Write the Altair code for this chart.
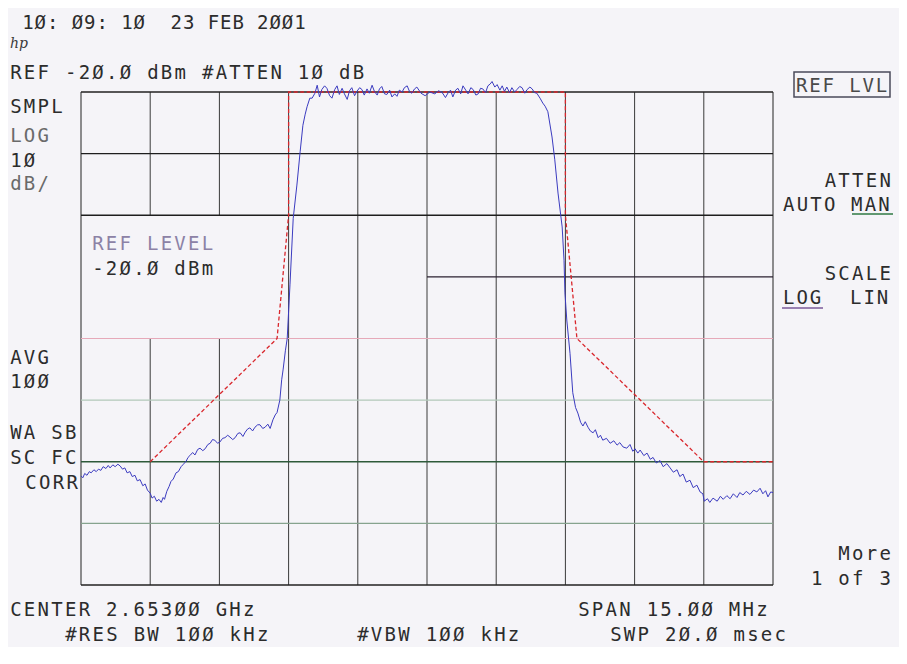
import altair as alt
import pandas as pd

# ---------------- data (MHz, dBm) ----------------
trace_freq = [
    2645.50, 2645.54, 2645.58, 2645.63, 2645.68, 2645.72, 2645.78, 2645.83, 2645.88, 2645.93,
    2645.98, 2646.04, 2646.09, 2646.13, 2646.19, 2646.24, 2646.30, 2646.35, 2646.40, 2646.45,
    2646.50, 2646.56, 2646.61, 2646.67, 2646.72, 2646.78, 2646.84, 2646.89, 2646.94, 2647.00,
    2647.04, 2647.09, 2647.14, 2647.19, 2647.24, 2647.28, 2647.31, 2647.36, 2647.41, 2647.45,
    2647.50, 2647.56, 2647.61, 2647.67, 2647.72, 2647.78, 2647.82, 2647.86, 2647.92, 2647.97,
    2648.03, 2648.08, 2648.14, 2648.19, 2648.25, 2648.30, 2648.35, 2648.40, 2648.46, 2648.51,
    2648.57, 2648.62, 2648.68, 2648.73, 2648.79, 2648.84, 2648.90, 2648.95, 2649.01, 2649.06,
    2649.11, 2649.16, 2649.22, 2649.27, 2649.33, 2649.38, 2649.44, 2649.49, 2649.55, 2649.60,
    2649.66, 2649.71, 2649.75, 2649.81, 2649.85, 2649.88, 2649.93, 2649.97, 2650.03, 2650.10,
    2650.18, 2650.25, 2650.31, 2650.36, 2650.40, 2650.46, 2650.51, 2650.57, 2650.62, 2650.67,
    2650.72, 2650.78, 2650.83, 2650.89, 2650.94, 2651.00, 2651.05, 2651.10, 2651.16, 2651.21,
    2651.27, 2651.32, 2651.37, 2651.43, 2651.48, 2651.54, 2651.59, 2651.64, 2651.70, 2651.75,
    2651.81, 2651.86, 2651.92, 2651.97, 2652.02, 2652.08, 2652.13, 2652.19, 2652.24, 2652.30,
    2652.35, 2652.40, 2652.46, 2652.51, 2652.57, 2652.62, 2652.67, 2652.73, 2652.78, 2652.87,
    2652.96, 2653.06, 2653.17, 2653.25, 2653.33, 2653.40, 2653.46, 2653.51, 2653.56, 2653.62,
    2653.67, 2653.73, 2653.78, 2653.84, 2653.89, 2653.95, 2654.00, 2654.06, 2654.11, 2654.16,
    2654.21, 2654.27, 2654.32, 2654.37, 2654.41, 2654.47, 2654.52, 2654.58, 2654.63, 2654.68,
    2654.73, 2654.79, 2654.84, 2654.90, 2654.95, 2655.01, 2655.06, 2655.12, 2655.17, 2655.23,
    2655.28, 2655.33, 2655.38, 2655.45, 2655.51, 2655.56, 2655.62, 2655.71, 2655.77, 2655.84,
    2655.93, 2655.97, 2655.99, 2656.03, 2656.10, 2656.16, 2656.22, 2656.27, 2656.33, 2656.38,
    2656.43, 2656.49, 2656.54, 2656.60, 2656.65, 2656.71, 2656.76, 2656.81, 2656.89, 2656.97,
    2657.05, 2657.12, 2657.18, 2657.25, 2657.33, 2657.40, 2657.46, 2657.51, 2657.57, 2657.62,
    2657.70, 2657.77, 2657.84, 2657.90, 2657.97, 2658.05, 2658.12, 2658.20, 2658.27, 2658.34,
    2658.42, 2658.48, 2658.55, 2658.62, 2658.70, 2658.77, 2658.85, 2658.92, 2658.98, 2659.01,
    2659.08, 2659.13, 2659.20, 2659.29, 2659.36, 2659.42, 2659.50, 2659.57, 2659.64, 2659.72,
    2659.78, 2659.85, 2659.92, 2660.00, 2660.08, 2660.15, 2660.22, 2660.28, 2660.34, 2660.39,
    2660.45, 2660.50,
]
trace_level = [
    -82.3, -82.6, -81.9, -82.2, -81.6, -81.8, -81.3, -81.6, -81.2, -81.4,
    -80.8, -81.1, -80.6, -81.0, -80.5, -80.8, -80.4, -80.7, -81.2, -81.0,
    -81.8, -81.6, -82.4, -82.2, -83.1, -82.9, -83.9, -83.6, -84.6, -85.1,
    -85.9, -85.6, -86.4, -86.1, -86.6, -85.8, -86.1, -84.8, -84.0, -83.2,
    -82.8, -81.8, -81.6, -80.8, -80.4, -79.9, -79.3, -79.0, -78.5, -78.9,
    -78.0, -77.8, -78.2, -77.9, -77.2, -77.0, -76.4, -76.5, -77.0, -76.8,
    -76.2, -76.1, -75.7, -76.0, -76.4, -76.1, -75.4, -75.3, -75.9, -75.2,
    -74.7, -74.5, -75.0, -74.4, -74.0, -74.0, -74.6, -74.4, -73.9, -74.6,
    -73.2, -72.4, -72.0, -70.0, -66.7, -65.1, -62.0, -60.0, -51.3, -40.5,
    -35.1, -29.7, -25.4, -23.6, -22.4, -21.0, -21.0, -20.2, -18.9, -20.8,
    -19.6, -19.0, -19.4, -20.6, -21.0, -19.6, -19.0, -20.4, -19.4, -20.3,
    -21.2, -19.8, -19.3, -20.6, -19.9, -19.3, -19.6, -20.5, -19.5, -20.2,
    -18.9, -19.9, -20.5, -19.5, -19.1, -20.3, -20.4, -19.7, -20.8, -20.3,
    -20.7, -19.7, -20.0, -19.3, -19.0, -19.9, -20.2, -19.5, -19.2, -20.2,
    -20.6, -20.0, -20.3, -19.8, -20.1, -20.9, -20.1, -19.7, -20.8, -19.7,
    -19.4, -20.3, -19.0, -19.7, -20.3, -19.3, -19.6, -20.5, -20.3, -19.4,
    -19.5, -20.1, -19.0, -18.7, -18.3, -19.2, -18.8, -19.7, -19.0, -19.9,
    -19.2, -20.1, -19.3, -20.0, -19.6, -19.1, -19.3, -20.2, -19.6, -19.2,
    -19.5, -20.1, -20.2, -21.0, -21.8, -22.3, -23.2, -27.3, -31.0, -36.4,
    -41.9, -47.3, -52.6, -57.0, -62.4, -68.8, -71.2, -72.1, -73.6, -74.2,
    -73.5, -74.4, -75.0, -75.3, -74.8, -76.1, -75.7, -76.5, -76.2, -77.0,
    -76.6, -77.3, -76.9, -77.6, -77.8, -77.2, -78.3, -77.9, -78.6, -78.1,
    -79.0, -78.6, -79.6, -79.3, -80.2, -79.8, -80.8, -80.3, -81.0, -81.7,
    -81.3, -82.4, -82.0, -83.3, -83.0, -84.2, -83.8, -84.9, -85.2, -86.4,
    -86.0, -86.6, -85.9, -86.4, -85.6, -86.1, -85.5, -86.0, -85.2, -85.8,
    -85.0, -85.4, -84.8, -85.3, -84.6, -84.9, -84.3, -85.2, -84.7, -85.7,
    -84.9, -85.0,
]
assert len(trace_freq) == len(trace_level)

mask_freq = [2647.0, 2649.75, 2650.0, 2650.0, 2656.0, 2656.0, 2656.25, 2659.0, 2660.5]
mask_level = [-80, -60, -40, -20, -20, -40, -60, -80, -80]

freq_ticks = [2645.5, 2647.0, 2648.5, 2650.0, 2651.5, 2653.0, 2654.5, 2656.0, 2657.5, 2659.0, 2660.5]
level_ticks = [-20, -30, -40, -50, -60, -70, -80, -90, -100]

# ---------------- layout ----------------
PLOT_W, PLOT_H = 692, 493
OX, OY = 81, 92          # page position of the plot area
PAD = {"left": OX - 8, "top": OY - 8, "right": 907 - 16 - (OX - 8) - PLOT_W, "bottom": 62}

XS = alt.Scale(domain=[freq_ticks[0], freq_ticks[-1]], nice=False, zero=False)
YS = alt.Scale(domain=[level_ticks[-1], level_ticks[0]], nice=False, zero=False)

# ---------------- graticule ----------------
rows = []
lo, hi = level_ticks[-1], level_ticks[0]
for k, f in enumerate(freq_ticks):
    col = "#222222" if k in (0, len(freq_ticks) - 1) else "#3a3a3a"
    if k in (1, 2):
        rows.append(dict(f1=f, f2=f, d1=lo, d2=-60, col=col, w=1.0))
        rows.append(dict(f1=f, f2=f, d1=-40, d2=hi, col=col, w=1.0))
    else:
        rows.append(dict(f1=f, f2=f, d1=lo, d2=hi, col=col, w=1.0))
hstyle = {
    -20: ("#222222", 1.3), -30: ("#1e1e1e", 1.4), -40: ("#1e1e1e", 1.4), -50: ("#2a2030", 1.3),
    -60: ("#e6a9b9", 1.2), -70: ("#b2c9ba", 1.2), -80: ("#2e5a3a", 1.5), -90: ("#86a38e", 1.2),
    -100: ("#222222", 1.4),
}
for d in level_ticks:
    c, w = hstyle[d]
    f1 = freq_ticks[5] if d == -50 else freq_ticks[0]
    rows.append(dict(f1=f1, f2=freq_ticks[-1], d1=d, d2=d, col=c, w=w))
grid_df = pd.DataFrame(rows)

grid = alt.Chart(grid_df).mark_rule().encode(
    x=alt.X("f1:Q", scale=XS, axis=None),
    x2="f2:Q",
    y=alt.Y("d1:Q", scale=YS, axis=None),
    y2="d2:Q",
    color=alt.Color("col:N", scale=None),
    strokeWidth=alt.StrokeWidth("w:Q", scale=None),
)

mask_df = pd.DataFrame({"freq": mask_freq, "level": mask_level, "i": range(len(mask_freq))})
mask = alt.Chart(mask_df).mark_line(color="#d9262c", strokeWidth=1.3, strokeDash=[4, 2.5]).encode(
    x=alt.X("freq:Q", scale=XS, axis=None),
    y=alt.Y("level:Q", scale=YS, axis=None),
    order="i:Q",
)

trace_df = pd.DataFrame({"freq": trace_freq, "level": trace_level, "i": range(len(trace_freq))})
trace = alt.Chart(trace_df).mark_line(color="#3b3bc0", strokeWidth=1.0).encode(
    x=alt.X("freq:Q", scale=XS, axis=None),
    y=alt.Y("level:Q", scale=YS, axis=None),
    order="i:Q",
)

# ---------------- screen annotations ----------------
DARK, GRAY, LAV = "#2c2c2c", "#6a6a6a", "#8c82a6"
P = 13.7
labels = [
    # text, left x (page), cap-centre y (page), colour, pitch
    ("1Ø: Ø9: 1Ø  23 FEB 2ØØ1", 21.8, 22, DARK, 12.36),
    ("REF -2Ø.Ø dBm #ATTEN 1Ø dB", 9, 72, DARK, P),
    ("SMPL", 9, 106, DARK, P),
    ("LOG", 9, 135, GRAY, P),
    ("1Ø", 9, 160, DARK, P),
    ("dB/", 9, 183, GRAY, P),
    ("REF LEVEL", 91, 243, LAV, P),
    ("-2Ø.Ø dBm", 91, 268, DARK, P),
    ("AVG", 9, 357, DARK, P),
    ("1ØØ", 9, 381, DARK, P),
    ("WA SB", 9, 432, DARK, P),
    ("SC FC", 9, 457, DARK, P),
    ("CORR", 79 - 4 * P, 482, DARK, P),
    ("REF LVL", 795, 85, "#4a4a4a", 13.3),
    ("ATTEN", 892 - 5 * P, 180, DARK, P),
    ("AUTO MAN", 782, 204, DARK, 13.6),
    ("SCALE", 892 - 5 * P, 273, DARK, P),
    ("LOG  LIN", 782, 297, DARK, 13.4),
    ("More", 892 - 4 * P, 553, DARK, P),
    ("1 of 3", 892 - 6 * P, 578, DARK, P),
    ("CENTER 2.653ØØ GHz", 9, 609, DARK, P),
    ("SPAN 15.ØØ MHz", 577, 609, DARK, P),
    ("#RES BW 1ØØ kHz", 64, 634, DARK, P),
    ("#VBW 1ØØ kHz", 356, 634, DARK, P),
    ("SWP 2Ø.Ø msec", 609, 634, DARK, P),
]
FS = 19
chars = []
for s, x0, yc, col, pitch in labels:
    for i, ch in enumerate(s):
        if ch == " ":
            continue
        chars.append(dict(ch=ch, px=x0 - OX + pitch * i + pitch / 2,
                          py=yc - OY + 0.365 * FS, col=col))
chars_df = pd.DataFrame(chars)

text = alt.Chart(chars_df).mark_text(
    font="DejaVu Sans Mono", fontSize=FS, align="center", baseline="alphabetic"
).encode(
    x=alt.X("px:Q", scale=None, axis=None),
    y=alt.Y("py:Q", scale=None, axis=None),
    text="ch:N",
    color=alt.Color("col:N", scale=None),
)

logo = alt.Chart(pd.DataFrame({"t": ["hp"]})).mark_text(
    font="DejaVu Serif", fontSize=14, fontStyle="italic", align="center", baseline="middle",
    color="#3a3a3a",
).encode(x=alt.value(19 - OX), y=alt.value(44 - OY), text="t:N")

box = alt.Chart(pd.DataFrame({"a": [0]})).mark_rect(
    fill="transparent", stroke="#4a4a5a", strokeWidth=1.5
).encode(x=alt.value(794 - OX), x2=alt.value(890 - OX), y=alt.value(72 - OY), y2=alt.value(97 - OY))

ul_man = alt.Chart(pd.DataFrame({"a": [0]})).mark_rule(color="#2f7a44", strokeWidth=1.6).encode(
    x=alt.value(852 - OX), x2=alt.value(893 - OX), y=alt.value(214 - OY))
ul_log = alt.Chart(pd.DataFrame({"a": [0]})).mark_rule(color="#7a5a9a", strokeWidth=1.6).encode(
    x=alt.value(782 - OX), x2=alt.value(823 - OX), y=alt.value(308 - OY))

chart = alt.layer(grid, mask, trace, text, logo, box, ul_man, ul_log).resolve_scale(
    x="independent", y="independent", color="independent"
).properties(
    width=PLOT_W, height=PLOT_H, padding=PAD,
    autosize=alt.AutoSizeParams(type="none"),
    background="#f5f4f8",
).configure_view(stroke=None, fill="#f5f4f8")

chart.save("out.html", embed_options={"renderer": "svg", "actions": False})
